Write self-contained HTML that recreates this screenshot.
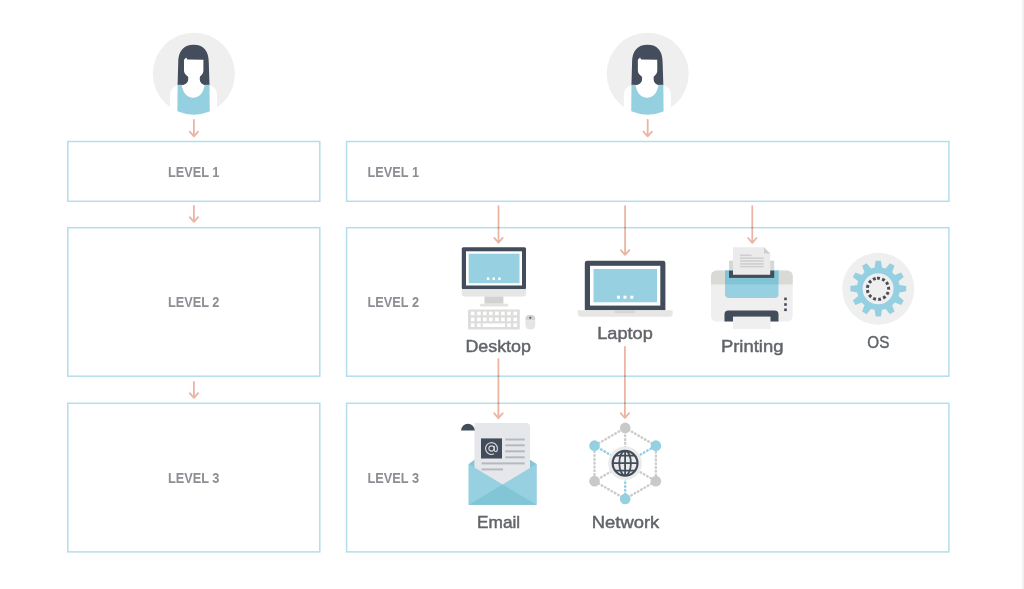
<!DOCTYPE html>
<html>
<head>
<meta charset="utf-8">
<style>
html,body{margin:0;padding:0;background:#fff;width:1024px;height:589px;overflow:hidden;}
svg{display:block;}
.lv{font-family:"Liberation Sans",sans-serif;font-weight:bold;font-size:14.4px;fill:#8b8e93;}
.tx{will-change:transform;}
.lb{font-family:"Liberation Sans",sans-serif;font-size:17px;fill:#616468;stroke:#616468;stroke-width:0.45px;}
</style>
</head>
<body>
<svg width="1024" height="589" viewBox="0 0 1024 589">
<defs>
  <clipPath id="avc"><circle cx="193.85" cy="73.7" r="41"/></clipPath>
  <g id="avatar">
    <circle cx="193.85" cy="73.7" r="41" fill="#efefef"/>
    <g clip-path="url(#avc)">
      <!-- shoulders -->
      <path d="M178 85 C172 87 170 90 170 96 L170 120 L217 120 L217 96 C217 90 215 87 209 85 Z" fill="#fff"/>
      <!-- hair -->
      <path d="M177.6 85 L178.2 63 C178.2 50.5 184 44.8 193.7 44.8 C203.4 44.8 208.8 50.5 208.8 63 L209.5 85 Z" fill="#434d5c"/>
      <!-- face & neck -->
      <path d="M184 59.8 L186.2 57.4 L187.3 59.6 L203.4 59.8 L203.4 70.6 C203.4 74.5 200.2 75.8 199.8 77.2 L199.8 79.5 C199.8 82.5 202 84.6 205.5 85.5 L181.8 85.5 C185.5 84.6 188.2 82.5 188.2 79.5 L188.2 77.2 C187.8 75.8 184 74.5 184 70.6 Z" fill="#fff"/>
      <!-- blue top -->
      <path d="M177.6 84.8 L181.6 84.8 C183 93 187 97.7 193.2 97.7 C199.4 97.7 203.4 93 204.7 84.8 L209.5 84.8 L209.8 120 L177.3 120 Z" fill="#94d0e0"/>
    </g>
  </g>
</defs>

<!-- right faint strip -->
<rect x="1022" y="0" width="2" height="589" fill="#f2f2f2"/>

<!-- boxes -->
<g fill="none" stroke="#b5ddeb" stroke-width="1.5">
  <rect x="67.8" y="141.5" width="252" height="59.8"/>
  <rect x="67.8" y="227.7" width="252" height="148.5"/>
  <rect x="67.8" y="403.3" width="252" height="148.6"/>
  <rect x="346.6" y="141.5" width="602.3" height="59.8"/>
  <rect x="346.6" y="227.7" width="602.3" height="148.5"/>
  <rect x="346.6" y="403.3" width="602.3" height="148.6"/>
</g>

<!-- level labels -->
<g style="filter:saturate(1.01)">
<text class="lv" x="193.7" y="176.6" text-anchor="middle" textLength="51.5" lengthAdjust="spacingAndGlyphs">LEVEL 1</text>
<text class="lv" x="193.7" y="306.9" text-anchor="middle" textLength="51.5" lengthAdjust="spacingAndGlyphs">LEVEL 2</text>
<text class="lv" x="193.7" y="483.2" text-anchor="middle" textLength="51.5" lengthAdjust="spacingAndGlyphs">LEVEL 3</text>
<text class="lv" x="367.5" y="176.6" textLength="51.5" lengthAdjust="spacingAndGlyphs">LEVEL 1</text>
<text class="lv" x="367.5" y="306.9" textLength="51.5" lengthAdjust="spacingAndGlyphs">LEVEL 2</text>
<text class="lv" x="367.5" y="483.2" textLength="51.5" lengthAdjust="spacingAndGlyphs">LEVEL 3</text>
</g>

<!-- avatars -->
<use href="#avatar"/>
<use href="#avatar" transform="translate(453.85 0)"/>

<!-- arrows -->
<g stroke="#eab5a2" stroke-width="1.8" fill="none" stroke-linecap="round" stroke-linejoin="round" style="mix-blend-mode:multiply">
  <path d="M193.9 119.8 V136.1 M189.7 131.6 L193.9 136.4 L198.1 131.6"/>
  <path d="M193.9 205.8 V221.6 M189.7 217.1 L193.9 221.9 L198.1 217.1"/>
  <path d="M193.9 381.8 V397.6 M189.7 393.1 L193.9 397.9 L198.1 393.1"/>
  <path d="M647.7 119.8 V136.1 M643.5 131.6 L647.7 136.4 L651.9 131.6"/>
  <path d="M498.5 206.1 V242.4 M494.3 237.9 L498.5 242.7 L502.7 237.9"/>
  <path d="M625.1 206.1 V254.6 M620.9 250.1 L625.1 254.9 L629.3 250.1"/>
  <path d="M752.3 206.1 V242.5 M748.1 238.0 L752.3 242.8 L756.5 238.0"/>
  <path d="M498.4 358.8 V417.8 M494.2 413.3 L498.4 418.1 L502.6 413.3"/>
  <path d="M624.9 346.8 V417.7 M620.7 413.2 L624.9 418.0 L629.1 413.2"/>
</g>

<!-- DESKTOP -->
<g>
  <rect x="461.8" y="247.3" width="64.2" height="42" rx="1.5" fill="#434c5a"/>
  <rect x="466" y="251.3" width="56" height="34.2" fill="#fff"/>
  <rect x="468.7" y="253.7" width="50.8" height="29.5" fill="#97d1e1"/>
  <g fill="#fff">
    <rect x="486.8" y="277.5" width="2.5" height="2.5"/>
    <rect x="492.5" y="277.5" width="2.5" height="2.5"/>
    <rect x="498.2" y="277.5" width="2.5" height="2.5"/>
  </g>
  <path d="M461.8 289.2 H526 V294 Q526 296.5 523.5 296.5 H464.3 Q461.8 296.5 461.8 294 Z" fill="#e6e6e6"/>
  <rect x="484.5" y="296.5" width="18.9" height="7.2" fill="#d2d2d2"/>
  <rect x="480" y="303.7" width="28.2" height="2.8" rx="1" fill="#e3e3e3"/>
  <rect x="468" y="309.4" width="51.8" height="20" rx="1.2" fill="#dddddb"/>
  <g fill="#fff">
    <rect x="470.9" y="311.6" width="3.6" height="3.6"/>
    <rect x="477.1" y="311.6" width="3.6" height="3.6"/>
    <rect x="483.0" y="311.6" width="3.6" height="3.6"/>
    <rect x="489.0" y="311.6" width="3.6" height="3.6"/>
    <rect x="495.1" y="311.6" width="3.6" height="3.6"/>
    <rect x="501.1" y="311.6" width="3.6" height="3.6"/>
    <rect x="507.2" y="311.6" width="3.6" height="3.6"/>
    <rect x="513.4" y="311.6" width="3.6" height="3.6"/>
    <rect x="470.9" y="317.6" width="3.6" height="3.6"/>
    <rect x="477.1" y="317.6" width="3.6" height="3.6"/>
    <rect x="483.0" y="317.6" width="3.6" height="3.6"/>
    <rect x="489.0" y="317.6" width="3.6" height="3.6"/>
    <rect x="495.1" y="317.6" width="3.6" height="3.6"/>
    <rect x="501.1" y="317.6" width="3.6" height="3.6"/>
    <rect x="507.2" y="317.6" width="3.6" height="3.6"/>
    <rect x="513.4" y="317.6" width="3.6" height="3.6"/>
    <rect x="470.9" y="323.4" width="3.6" height="3.6"/>
    <rect x="477.1" y="323.4" width="3.6" height="3.6"/>
    <rect x="507.2" y="323.4" width="3.6" height="3.6"/>
    <rect x="513.4" y="323.4" width="3.6" height="3.6"/>
    <rect x="482.7" y="323.4" width="22.3" height="3.6"/>
  </g>
  <path d="M525.5 320.5 V318.5 Q525.5 315 529 315 H531.7 Q535.2 315 535.2 318.5 V320.5 Z" fill="#d3d3d3"/>
  <path d="M525.5 320.5 H535.2 V325 Q535.2 329.6 530.35 329.6 Q525.5 329.6 525.5 325 Z" fill="#e5e5e5"/>
  <circle cx="530.35" cy="317.8" r="1.1" fill="#555d68"/>
</g>

<!-- LAPTOP -->
<g>
  <path d="M584.8 310.3 V263 Q584.8 260.7 587.1 260.7 H663.1 Q665.4 260.7 665.4 263 V310.3 Z" fill="#434c5a"/>
  <rect x="590" y="265.8" width="70.3" height="39.8" fill="#fff"/>
  <rect x="593.5" y="269" width="63.5" height="33.3" fill="#97d1e1"/>
  <g fill="#fff">
    <rect x="617" y="295.7" width="3" height="3"/>
    <rect x="623.5" y="295.7" width="3" height="3"/>
    <rect x="630.3" y="295.7" width="3" height="3"/>
  </g>
  <path d="M577.7 310.3 H672.7 V313.5 Q672.7 316.7 669.5 316.7 H580.9 Q577.7 316.7 577.7 313.5 Z" fill="#e6e6e5"/>
  <path d="M614.5 310.3 H635.3 V312 Q635.3 313.3 634 313.3 H615.8 Q614.5 313.3 614.5 312 Z" fill="#d6d6d6"/>
</g>

<!-- PRINTER -->
<g>
  <rect x="729" y="260.6" width="45.2" height="12" fill="#d7d8d4"/>
  <rect x="711" y="270.6" width="81.7" height="50.9" rx="5.5" fill="#efefef"/>
  <path d="M716.5 270.6 H787.2 A5.5 5.5 0 0 1 792.7 276.1 V284.4 H711 V276.1 A5.5 5.5 0 0 1 716.5 270.6 Z" fill="#d9dad6"/>
  <path d="M725 270.6 H778.5 V294 Q778.5 298 774.5 298 H729 Q725 298 725 294 Z" fill="#97d1e1"/>
  <rect x="725" y="270.6" width="53.5" height="13.8" fill="#80c4d6"/>
  <rect x="729" y="270.6" width="45.2" height="7.3" fill="#434c5a"/>
  <path d="M733 247.3 H764 L770.2 253.5 V274.7 H733 Z" fill="#ebebeb"/>
  <path d="M764 247.3 L770.2 253.5 H764 Z" fill="#cfcfcf"/>
  <g fill="#cfcfcf">
    <rect x="740" y="254.5" width="11.6" height="1.6"/>
    <rect x="740" y="257.4" width="23.7" height="1.6"/>
    <rect x="740" y="260.2" width="23.7" height="1.6"/>
    <rect x="740" y="263.1" width="23.7" height="1.6"/>
    <rect x="740" y="265.8" width="23.7" height="1.6"/>
  </g>
  <g fill="#434c5a">
    <rect x="784.2" y="297.6" width="2.6" height="2.6"/>
    <rect x="784.2" y="303.2" width="2.6" height="2.6"/>
    <rect x="784.2" y="308.5" width="2.6" height="2.6"/>
  </g>
  <path d="M724.5 321.5 V314.5 Q724.5 310.5 728.5 310.5 H774.5 Q778.5 310.5 778.5 314.5 V321.5 Z" fill="#434c5a"/>
  <rect x="733" y="316.6" width="37.5" height="12.4" fill="#efefef"/>
</g>

<!-- OS -->
<g>
  <circle cx="878.3" cy="288.7" r="36" fill="#efefef"/>
  <path d="M874.57 267.53 L875.71 260.82 L880.89 260.82 L882.03 267.53 L885.65 268.50 L890.00 263.26 L894.48 265.85 L892.12 272.23 L894.77 274.88 L901.15 272.52 L903.74 277.00 L898.50 281.35 L899.47 284.97 L906.18 286.11 L906.18 291.29 L899.47 292.43 L898.50 296.05 L903.74 300.40 L901.15 304.88 L894.77 302.52 L892.12 305.17 L894.48 311.55 L890.00 314.14 L885.65 308.90 L882.03 309.87 L880.89 316.58 L875.71 316.58 L874.57 309.87 L870.95 308.90 L866.60 314.14 L862.12 311.55 L864.48 305.17 L861.83 302.52 L855.45 304.88 L852.86 300.40 L858.10 296.05 L857.13 292.43 L850.42 291.29 L850.42 286.11 L857.13 284.97 L858.10 281.35 L852.86 277.00 L855.45 272.52 L861.83 274.88 L864.48 272.23 L862.12 265.85 L866.60 263.26 L870.95 268.50Z" fill="#94d0e1"/>
  <circle cx="878.1" cy="288.7" r="15.5" fill="#efefef"/>
  <circle cx="878" cy="288.8" r="10.6" fill="none" stroke="#484e57" stroke-width="3" stroke-dasharray="2.9 2.257" transform="rotate(-95 878 288.8)"/>
</g>

<!-- EMAIL -->
<g>
  <path d="M468.7 464 L474.4 459.8 H530 L536.5 464 V504.8 H468.7 Z" fill="#86c6d8"/>
  <path d="M474.4 423 H526 Q530 423 530 427 V490 H474.4 Z" fill="#e5e7ea"/>
  <path d="M461.1 430.6 A6.8 6.8 0 0 1 474.7 430.6 Z" fill="#434c5a"/>
  <rect x="481" y="438.4" width="21" height="20.1" fill="#434c5a"/>
  <path d="M494.3 445.9 V450.1 Q494.3 451.7 495.8 451.7 Q497.4 451.7 497.4 448.5 A5.9 5.9 0 1 0 494.1 453.8" fill="none" stroke="#d5d8dc" stroke-width="1.1"/><circle cx="491.5" cy="448.5" r="2.6" fill="none" stroke="#d5d8dc" stroke-width="1.1"/>
  <g fill="#b5b9be">
    <rect x="505.3" y="438.5" width="19.4" height="2"/>
    <rect x="505.3" y="444.3" width="19.4" height="2"/>
    <rect x="505.3" y="450.3" width="19.4" height="2"/>
    <rect x="505.3" y="456.3" width="19.4" height="2"/>
    <rect x="481.6" y="462.4" width="43.1" height="2"/>
    <rect x="481.6" y="468.4" width="21.4" height="2"/>
  </g>
  <path d="M468.7 464 L502.6 484.6 L536.5 464 V504.8 H468.7 Z" fill="#97d1e1"/>
  <path d="M468.7 504.8 L502.6 484.6 L536.5 504.8 Z" fill="#82c5d7"/>
</g>

<!-- NETWORK -->
<g>
  <g fill="none" stroke-width="2.5" stroke-dasharray="0.6 3.2" stroke-linecap="round">
    <path d="M625.2 427.9 L655.9 445.65 L655.9 481.15 L625.2 498.9 L594.5 481.15 L594.5 445.65 Z" stroke="#cdcdcd"/>
    <path d="M625.2 427.9 V463.4 M594.5 481.15 L625.2 463.4 L655.9 481.15" stroke="#cdcdcd"/>
    <path d="M594.5 445.65 L625.2 463.4 L655.9 445.65 M625.2 463.4 V498.9" stroke="#94d0e1"/>
  </g>
  <circle cx="625.2" cy="427.9" r="5.3" fill="#c9c9c9"/>
  <circle cx="594.5" cy="481.15" r="5.3" fill="#c9c9c9"/>
  <circle cx="655.9" cy="481.15" r="5.3" fill="#c9c9c9"/>
  <circle cx="594.5" cy="445.65" r="5.3" fill="#94d0e1"/>
  <circle cx="655.9" cy="445.65" r="5.3" fill="#94d0e1"/>
  <circle cx="625.2" cy="498.9" r="5.3" fill="#94d0e1"/>
  <circle cx="625.1" cy="463.2" r="16.8" fill="#ebebeb"/>
  <clipPath id="globe"><circle cx="625.1" cy="463.2" r="12"/></clipPath>
  <g fill="none" stroke="#434c5a">
    <circle cx="625.1" cy="463.2" r="12.4" stroke-width="2.2"/>
    <g clip-path="url(#globe)" stroke-width="1.8">
      <ellipse cx="625.1" cy="463.2" rx="5.8" ry="12.4"/>
      <path d="M625.1 450 V476 M610 455.7 H640 M610 463.2 H640 M610 470.7 H640"/>
    </g>
  </g>
</g>

<!-- device labels -->
<g style="filter:saturate(1.01)">
<text class="lb" x="498.2" y="352.2" text-anchor="middle" textLength="65.6" lengthAdjust="spacingAndGlyphs">Desktop</text>
<text class="lb" x="625" y="338.8" text-anchor="middle" textLength="55.5" lengthAdjust="spacingAndGlyphs">Laptop</text>
<text class="lb" x="752.2" y="352" text-anchor="middle" textLength="62.6" lengthAdjust="spacingAndGlyphs">Printing</text>
<text class="lb" x="878.3" y="347.6" text-anchor="middle" textLength="22" lengthAdjust="spacingAndGlyphs">OS</text>
<text class="lb" x="498.6" y="527.8" text-anchor="middle" textLength="43" lengthAdjust="spacingAndGlyphs">Email</text>
<text class="lb" x="625.5" y="527.8" text-anchor="middle" textLength="67.5" lengthAdjust="spacingAndGlyphs">Network</text>
</g>

</svg>
</body>
</html>
